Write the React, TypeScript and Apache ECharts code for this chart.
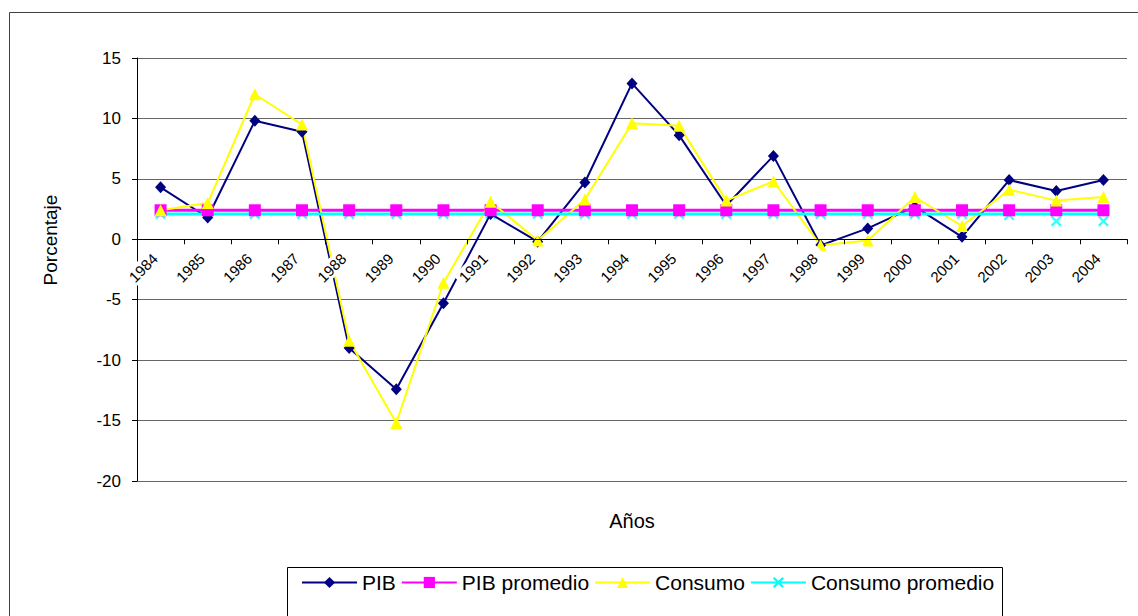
import React, { useEffect, useRef } from "react";
import * as echarts from "echarts";

const years = [
  "1984", "1985", "1986", "1987", "1988", "1989", "1990", "1991", "1992", "1993", "1994",
  "1995", "1996", "1997", "1998", "1999", "2000", "2001", "2002", "2003", "2004",
];
const pib = [4.3, 1.8, 9.8, 8.9, -9.0, -12.4, -5.3, 2.1, -0.2, 4.7, 12.9, 8.6, 2.8, 6.9, -0.5, 0.9, 2.7, 0.2, 4.9, 4.0, 4.9];
const pibPromedio = [2.4, 2.4, 2.4, 2.4, 2.4, 2.4, 2.4, 2.4, 2.4, 2.4, 2.4, 2.4, 2.4, 2.4, 2.4, 2.4, 2.4, 2.4, 2.4, 2.4, 2.4];
const consumo = [2.4, 3.0, 12.0, 9.5, -8.4, -15.2, -3.6, 3.1, -0.1, 3.3, 9.6, 9.4, 3.2, 4.8, -0.5, -0.1, 3.5, 1.1, 4.1, 3.2, 3.5];
const consumoPromedioLinea = [2.1, 2.1, 2.1, 2.1, 2.1, 2.1, 2.1, 2.1, 2.1, 2.1, 2.1, 2.1, 2.1, 2.1, 2.1, 2.1, 2.1, 2.1, 2.1, 2.1, 2.1];
const consumoPromedio = [2.1, 2.1, 2.1, 2.1, 2.1, 2.1, 2.1, 2.1, 2.1, 2.1, 2.1, 2.1, 2.1, 2.1, 2.1, 2.1, 2.1, 2.1, 2.0, 1.5, 1.5];
const yMin = -20;
const yMax = 15;
const yStep = 5;

const FONT = "'Liberation Sans', Arial, sans-serif";
const X_PATH = "path://M0,1.5L1.5,0L5,3.5L8.5,0L10,1.5L6.5,5L10,8.5L8.5,10L5,6.5L1.5,10L0,8.5L3.5,5Z";

const GRID_TOP = 58;
const GRID_BOTTOM_Y = 481;
// pixel offset that lifts the category axis from the plot bottom to the value 0
const ZERO_OFFSET = -((GRID_BOTTOM_Y - GRID_TOP) * (0 - yMin)) / (yMax - yMin);

export default function App() {
  const ref = useRef<HTMLDivElement>(null);
  useEffect(() => {
    if (!ref.current) return;
    const chart = echarts.init(ref.current, null, { renderer: "svg" });
    chart.setOption({
      animation: false,
      backgroundColor: "#ffffff",
      textStyle: { fontFamily: FONT },
      graphic: [
        {
          type: "rect",
          z: 0,
          shape: { x: 9.5, y: 12.5, width: 1160, height: 640 },
          style: { fill: "none", stroke: "#404040", lineWidth: 1 },
        },
        {
          type: "rect",
          z: 0,
          shape: { x: 287.5, y: 567.5, width: 715, height: 70 },
          style: { fill: "#ffffff", stroke: "#000000", lineWidth: 1 },
        },
        {
          type: "text",
          z: 5,
          x: 50,
          y: 240,
          rotation: Math.PI / 2,
          style: {
            text: "Porcentaje",
            align: "center",
            verticalAlign: "middle",
            fontSize: 19,
            fontFamily: FONT,
            fill: "#000",
          },
        },
      ],
      grid: {
        left: 137,
        right: 11,
        top: GRID_TOP,
        bottom: 616 - GRID_BOTTOM_Y,
        containLabel: false,
        outerBoundsMode: "none",
      },
      legend: {
        data: ["PIB", "PIB promedio", "Consumo", "Consumo promedio"],
        left: 296,
        top: 567,
        itemWidth: 55,
        itemHeight: 14,
        itemGap: 5,
        z: 5,
        textStyle: { fontSize: 21, color: "#000", fontFamily: FONT },
      },
      xAxis: {
        type: "category",
        data: years,
        boundaryGap: true,
        z: 10,
        offset: ZERO_OFFSET,
        axisLine: { onZero: false, lineStyle: { color: "#000", width: 1 } },
        axisTick: { show: true, length: 5, lineStyle: { color: "#000" } },
        axisLabel: {
          rotate: 45,
          margin: 11,
          interval: 0,
          fontSize: 15,
          color: "#000",
          fontFamily: FONT,
          backgroundColor: "#ffffff",
          padding: [1, 8, 1, 3],
        },
        splitLine: { show: false },
        name: "Años",
        nameLocation: "middle",
        nameGap: 272,
        nameTextStyle: { fontSize: 20, color: "#000", fontFamily: FONT },
      },
      yAxis: {
        type: "value",
        min: yMin,
        max: yMax,
        interval: yStep,
        axisLine: { show: true, lineStyle: { color: "#000", width: 1 } },
        axisTick: { show: true, length: 5, inside: false, lineStyle: { color: "#000" } },
        axisLabel: { margin: 16, fontSize: 17, color: "#000", fontFamily: FONT },
        splitLine: { show: true, lineStyle: { color: "#666", width: 1 } },
      },
      series: [
        {
          name: "PIB",
          type: "line",
          data: pib,
          symbol: "diamond",
          symbolSize: [11, 12],
          lineStyle: { color: "#000080", width: 2 },
          itemStyle: { color: "#000080" },
        },
        {
          name: "PIB promedio",
          type: "line",
          data: pibPromedio,
          symbol: "rect",
          symbolSize: 12,
          lineStyle: { color: "#FF00FF", width: 3 },
          itemStyle: { color: "#FF00FF" },
        },
        {
          name: "Consumo",
          type: "line",
          data: consumo,
          symbol: "triangle",
          symbolSize: 12,
          lineStyle: { color: "#FFFF00", width: 2 },
          itemStyle: { color: "#FFFF00" },
        },
        {
          name: "Consumo promedio",
          type: "line",
          data: consumoPromedioLinea,
          symbol: X_PATH,
          showSymbol: false,
          symbolSize: 11,
          lineStyle: { color: "#00FFFF", width: 3 },
          itemStyle: { color: "#00FFFF" },
        },
        {
          name: "Consumo promedio",
          type: "scatter",
          data: consumoPromedio,
          symbol: X_PATH,
          symbolSize: 11,
          itemStyle: { color: "#00FFFF" },
        },
      ],
    });
    return () => chart.dispose();
  }, []);
  return (
    <div
      ref={ref}
      style={{ position: "fixed", left: 0, top: 0, width: 1138, height: 616 }}
    />
  );
}
